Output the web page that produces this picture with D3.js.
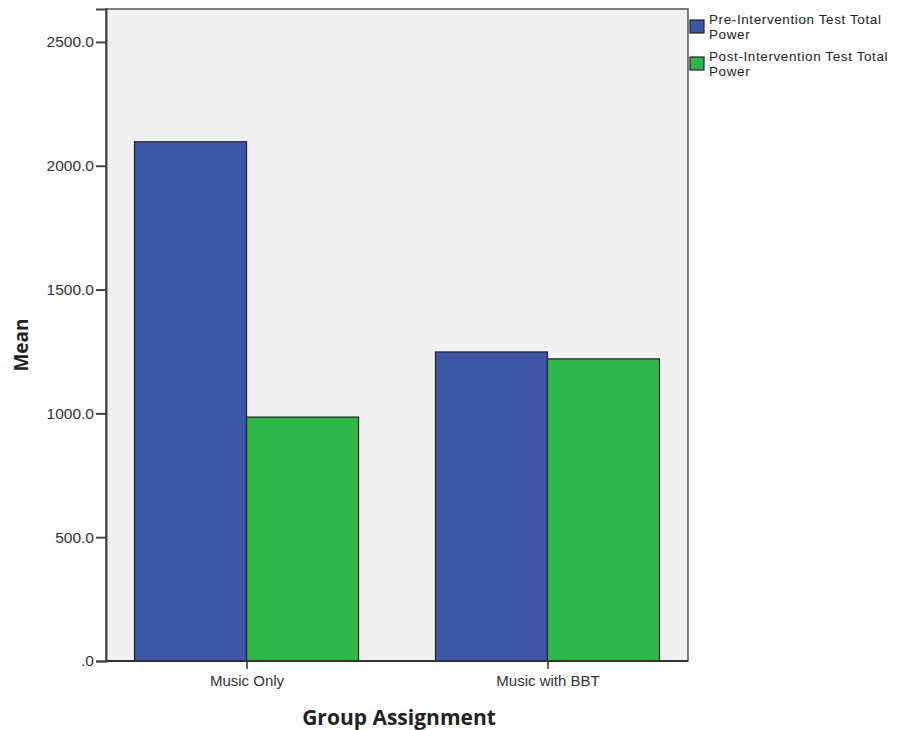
<!DOCTYPE html>
<html><head><meta charset="utf-8">
<script src="https://cdn.jsdelivr.net/npm/d3@7"></script>
<style>body{margin:0;background:#fff}svg{display:block}</style>
</head><body>
<svg id="c" width="907" height="730"></svg>
<script>
const categories = ["Music Only", "Music with BBT"];
const seriesNames = ["Pre-Intervention Test Total Power", "Post-Intervention Test Total Power"];
const preValues = [2097, 1248];
const postValues = [985, 1220];
const yTicks = [0, 500, 1000, 1500, 2000, 2500];
const yTickLabels = [".0", "500.0", "1000.0", "1500.0", "2000.0", "2500.0"];
const colors = ["#3d56a8", "#2eb84a"];

const svg = d3.select("#c");
const L = 106, R = 688, T = 9, B = 661;
const y = d3.scaleLinear().domain([0, 2633]).range([B, T]);
const x = d3.scalePoint().domain(categories).range([L, R]).padding(0.467);
const barW = 112;
const inner = d3.scaleBand().domain([0, 1]).range([-barW, barW]);

svg.append("rect").attr("x", L).attr("y", T).attr("width", R - L).attr("height", B - T)
  .attr("fill", "#f0f0f0").attr("stroke", "#555").attr("stroke-width", 1.5);

const data = categories.map((c, i) => ({c, vals: [preValues[i], postValues[i]]}));
const g = svg.append("g");
data.forEach(d => {
  d.vals.forEach((v, k) => {
    g.append("rect")
      .attr("x", x(d.c) + inner(k))
      .attr("y", y(v))
      .attr("width", inner.bandwidth())
      .attr("height", y(0) - y(v))
      .attr("fill", colors[k]).attr("stroke", "#222").attr("stroke-width", 1.2);
  });
});

const yAxis = d3.axisLeft(y).tickValues(yTicks).tickSize(10).tickPadding(2)
  .tickFormat((d, i) => yTickLabels[i]);
const ya = svg.append("g").attr("transform", `translate(${L},0)`).call(yAxis);
ya.select(".domain").attr("stroke", "#444").attr("stroke-width", 2);
ya.selectAll(".tick line").attr("stroke", "#444").attr("stroke-width", 2);
ya.selectAll(".tick text").attr("font-family", "Liberation Sans, Arial, sans-serif")
  .attr("font-size", 15.5).attr("fill", "#333");

const xAxis = d3.axisBottom(x).tickSize(8).tickPadding(6);
const xa = svg.append("g").attr("transform", `translate(0,${B})`).call(xAxis);
xa.select(".domain").attr("stroke", "#333").attr("stroke-width", 2).attr("d", `M${L},0H${R}`);
xa.selectAll(".tick line").attr("stroke", "#333").attr("stroke-width", 1.5);
xa.selectAll(".tick text").attr("font-family", "Liberation Sans, Arial, sans-serif")
  .attr("font-size", 15).attr("fill", "#333");

svg.append("text").attr("x", 399).attr("y", 725).attr("text-anchor", "middle")
  .attr("font-family", "Open Sans, sans-serif").attr("font-weight", "bold")
  .attr("font-size", 21).attr("fill", "#222").text("Group Assignment");
svg.append("text").attr("transform", "translate(28,345) rotate(-90)").attr("text-anchor", "middle")
  .attr("font-family", "Open Sans, sans-serif").attr("font-weight", "bold")
  .attr("font-size", 19).attr("fill", "#222").text("Mean");

const leg = svg.append("g");
seriesNames.forEach((s, i) => {
  const gy = 20 + i * 37;
  leg.append("rect").attr("x", 690).attr("y", gy).attr("width", 14).attr("height", 13)
    .attr("fill", colors[i]).attr("stroke", "#222").attr("stroke-width", 1.2);
  const words = s.split(" ");
  const line1 = words.slice(0, -1).join(" "), line2 = words[words.length - 1];
  const t = leg.append("text").attr("font-family", "Liberation Sans, Arial, sans-serif")
    .attr("font-size", 13.5).attr("letter-spacing", 0.6).attr("fill", "#222");
  t.append("tspan").attr("x", 709).attr("y", gy + 4).text(line1);
  t.append("tspan").attr("x", 709).attr("y", gy + 19).text(line2);
});
</script>
</body></html>
